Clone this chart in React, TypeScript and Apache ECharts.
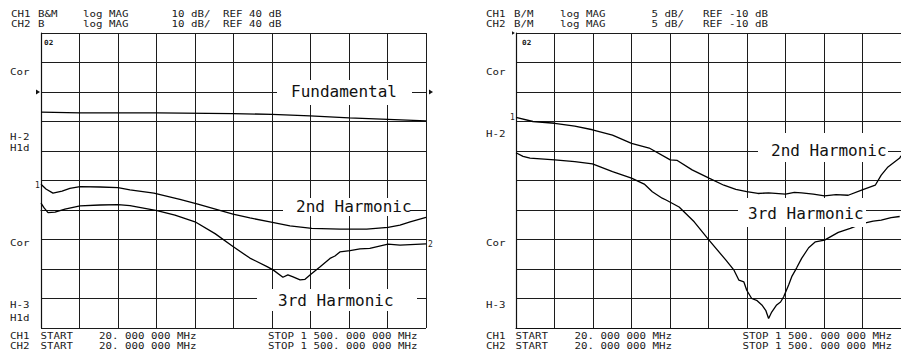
import React, { useEffect, useRef } from "react";
import * as echarts from "echarts";

const START_MHZ = 20;
const SPAN_MHZ = 1480;
const DIV_MHZ = 148;

// Left panel: 10 dB/div, REF 40 dB
const leftFundFreq = [20, 170, 466, 758, 908, 1054, 1204, 1354, 1500];
const leftFundDb = [33.2, 32.9, 32.9, 32.7, 32.4, 31.9, 31.2, 30.7, 30.2];

const left2ndFreq = [20, 39, 66, 101, 131, 170, 247, 316, 362, 454, 554, 623, 758, 823, 900, 977, 1061, 1170, 1272, 1354, 1400, 1439, 1500];
const left2ndDb = [8.7, 7.1, 5.7, 6.4, 7.3, 7.9, 7.8, 7.6, 6.8, 5.7, 3.6, 2.0, -1.4, -2.7, -4.0, -5.4, -6.2, -6.5, -6.5, -5.9, -5.1, -4.0, -2.5];

const left3rdFreq = [20, 32, 47, 74, 112, 170, 247, 316, 362, 466, 535, 612, 689, 758, 823, 889, 912, 950, 969, 989, 1016, 1035, 1054, 1061, 1092, 1131, 1150, 1169, 1208, 1246, 1284, 1354, 1400, 1500];
const left3rdDb = [2.3, 0.7, -0.9, -0.7, 0.3, 1.4, 1.7, 1.8, 1.5, -0.2, -1.7, -4.0, -8.0, -12.4, -16.3, -19.2, -20.3, -22.8, -22.0, -22.7, -23.7, -23.5, -22.0, -21.5, -19.3, -16.4, -15.6, -14.2, -13.8, -13.2, -13.0, -11.6, -11.9, -11.5];

// Right panel: 5 dB/div, REF -10 dB
const right2ndFreq = [20, 85, 169, 246, 314, 391, 464, 532, 613, 640, 697, 762, 819, 865, 907, 950, 991, 1056, 1090, 1118, 1163, 1206, 1250, 1297, 1351, 1401, 1424, 1450, 1495, 1500];
const right2ndDb = [-24.3, -25.0, -25.3, -25.8, -26.4, -27.3, -28.7, -29.5, -31.5, -31.6, -33.2, -34.6, -35.8, -36.5, -36.9, -37.2, -37.1, -37.3, -37.0, -37.1, -37.3, -37.6, -37.4, -37.5, -36.6, -35.8, -34.1, -32.7, -31.2, -30.8];

const right3rdFreq = [20, 47, 74, 169, 246, 314, 391, 464, 513, 544, 582, 597, 647, 705, 762, 827, 858, 877, 896, 907, 926, 945, 965, 980, 991, 1003, 1022, 1037, 1049, 1068, 1080, 1099, 1118, 1145, 1171, 1206, 1259, 1305, 1351, 1393, 1424, 1462, 1495];
const right3rdDb = [-30.3, -30.9, -31.2, -31.5, -31.8, -32.2, -33.5, -34.6, -35.6, -36.9, -38.0, -38.3, -39.5, -42.0, -45.1, -48.5, -50.2, -51.9, -52.2, -53.6, -55.0, -55.3, -56.1, -57.0, -58.4, -57.3, -56.1, -55.6, -54.7, -52.7, -51.3, -49.8, -48.2, -46.4, -45.4, -45.1, -43.8, -43.1, -42.3, -41.9, -41.7, -41.3, -41.1];

const leftHeader = [
  ["CH1", "B&M", "log MAG", "10 dB/", "REF 40 dB"],
  ["CH2", "B", "log MAG", "10 dB/", "REF 40 dB"],
];
const rightHeader = [
  ["CH1", "B/M", "log MAG", "5 dB/", "REF -10 dB"],
  ["CH2", "B/M", "log MAG", "5 dB/", "REF -10 dB"],
];
const footerStart = ["CH1 START", "CH2 START"];
const footerStartFreq = "20. 000 000 MHz";
const footerStop = "STOP 1 500. 000 000 MHz";

const pts = (f: number[], v: number[]) => f.map((x, i) => [x - START_MHZ, v[i]]);

const MONO = "DejaVu Sans Mono";

function txt(x: number, y: number, s: string, extra: any = {}) {
  return {
    type: "text",
    x,
    y,
    scaleX: extra.scaleX ?? 1.35,
    z: 120,
    style: {
      text: s,
      fontFamily: MONO,
      fontSize: extra.fontSize ?? 8,
      fontWeight: extra.fontWeight ?? "normal",
      fill: "#1a1a1a",
      textVerticalAlign: "middle",
      verticalAlign: "middle",
    },
  };
}

function box(x: number, y: number, w: number, h: number) {
  return { type: "rect", z: 100, shape: { x, y, width: w, height: h }, style: { fill: "#fff" } };
}

function big(x: number, y: number, s: string) {
  return {
    type: "text",
    x,
    y,
    z: 120,
    style: {
      text: s,
      fontFamily: MONO,
      fontSize: 16,
      fill: "#111",
      textVerticalAlign: "middle",
      verticalAlign: "middle",
    },
  };
}

function tri(x: number, y: number, s = 3) {
  return {
    type: "polygon",
    z: 120,
    shape: { points: [[x, y - s], [x + s * 1.6, y], [x, y + s]] },
    style: { fill: "#111" },
  };
}

export default function App() {
  const ref = useRef<HTMLDivElement>(null);
  useEffect(() => {
    if (!ref.current) return;
    const chart = echarts.init(ref.current, undefined, { renderer: "svg" });
    const gridLine = { show: true, lineStyle: { color: "#1c1c1c", width: 1 } };
    const xAx = (gi: number) => ({
      type: "value",
      gridIndex: gi,
      min: 0,
      max: SPAN_MHZ,
      interval: DIV_MHZ,
      axisLabel: { show: false },
      axisTick: { show: false },
      axisLine: { show: true, lineStyle: { color: "#111", width: 1.2 } },
      splitLine: gridLine,
    });
    const yAx = (gi: number, min: number, max: number, iv: number) => ({
      type: "value",
      gridIndex: gi,
      min,
      max,
      interval: iv,
      axisLabel: { show: false },
      axisTick: { show: false },
      axisLine: { show: true, lineStyle: { color: "#111", width: 1.2 } },
      splitLine: gridLine,
    });
    const line = (xi: number, data: number[][]) => ({
      type: "line",
      xAxisIndex: xi,
      yAxisIndex: xi,
      data,
      showSymbol: false,
      symbol: "none",
      lineStyle: { color: "#000", width: 1.3 },
      z: 5,
    });

    const graphics: any[] = [];
    // headers
    const lhX = [11, 38, 83, 171.5, 223];
    const rhX = [486, 514, 560, 651.5, 703];
    [14.5, 24.5].forEach((y, r) => {
      leftHeader[r].forEach((s, i) => graphics.push(txt(lhX[i], y, s)));
      rightHeader[r].forEach((s, i) => graphics.push(txt(rhX[i], y, s)));
    });
    // footers
    [336.5, 346.5].forEach((y, r) => {
      const [ch, st] = footerStart[r].split(" ");
      graphics.push(txt(10, y, ch));
      graphics.push(txt(40.5, y, st));
      graphics.push(txt(99, y, footerStartFreq));
      graphics.push(txt(268, y, footerStop));
      graphics.push(txt(486, y, ch));
      graphics.push(txt(515.5, y, st));
      graphics.push(txt(574.5, y, footerStartFreq));
      graphics.push(txt(742.5, y, footerStop));
    });
    // side labels
    const lside: [number, string][] = [[71.7, "Cor"], [136.7, "H-2"], [148.3, "H1d"], [243.3, "Cor"], [305, "H-3"], [317.7, "H1d"]];
    lside.forEach(([y, s]) => graphics.push(txt(10, y, s)));
    const rside: [number, string][] = [[71.7, "Cor"], [134.3, "H-2"], [242.7, "Cor"], [305, "H-3"]];
    rside.forEach(([y, s]) => graphics.push(txt(486, y, s)));
    // channel markers
    graphics.push(txt(35, 185.5, "1", { scaleX: 1 }));
    graphics.push(txt(428, 244, "2", { scaleX: 1 }));
    graphics.push(txt(510, 117, "1", { scaleX: 1 }));
    graphics.push(txt(44, 42.5, "02", { fontSize: 7, fontWeight: "bold", scaleX: 1.1 }));
    graphics.push(txt(522, 43, "02", { fontSize: 7, fontWeight: "bold", scaleX: 1.1 }));
    graphics.push(tri(36, 92, 2.5));
    graphics.push(tri(429, 92, 2.5));
    graphics.push(tri(512, 33, 1.8));
    // annotation boxes
    graphics.push(box(277, 80, 135, 25));
    graphics.push(big(291, 91.5, "Fundamental"));
    graphics.push(box(283, 198, 127, 18));
    graphics.push(big(296, 206.5, "2nd Harmonic"));
    graphics.push(box(257, 289, 160, 22));
    graphics.push(big(278, 300, "3rd Harmonic"));
    graphics.push(box(758, 133, 130, 29));
    graphics.push(big(771, 150.5, "2nd Harmonic"));
    graphics.push(box(738, 198, 128, 29));
    graphics.push(big(748, 213, "3rd Harmonic"));

    chart.setOption({
      animation: false,
      backgroundColor: "#fff",
      grid: [
        { left: 41, top: 33, width: 385, height: 295 },
        { left: 516, top: 33, width: 387, height: 295 },
      ],
      xAxis: [xAx(0), xAx(1)],
      yAxis: [yAx(0, -40, 60, 10), yAx(1, -60, -10, 5)],
      series: [
        line(0, pts(leftFundFreq, leftFundDb)),
        line(0, pts(left2ndFreq, left2ndDb)),
        line(0, pts(left3rdFreq, left3rdDb)),
        line(1, pts(right2ndFreq, right2ndDb)),
        line(1, pts(right3rdFreq, right3rdDb)),
      ],
      graphic: graphics,
    });
    return () => chart.dispose();
  }, []);
  return (
    <div
      ref={ref}
      style={{ position: "absolute", left: 0, top: 0, width: 901, height: 354, background: "#fff" }}
    />
  );
}
